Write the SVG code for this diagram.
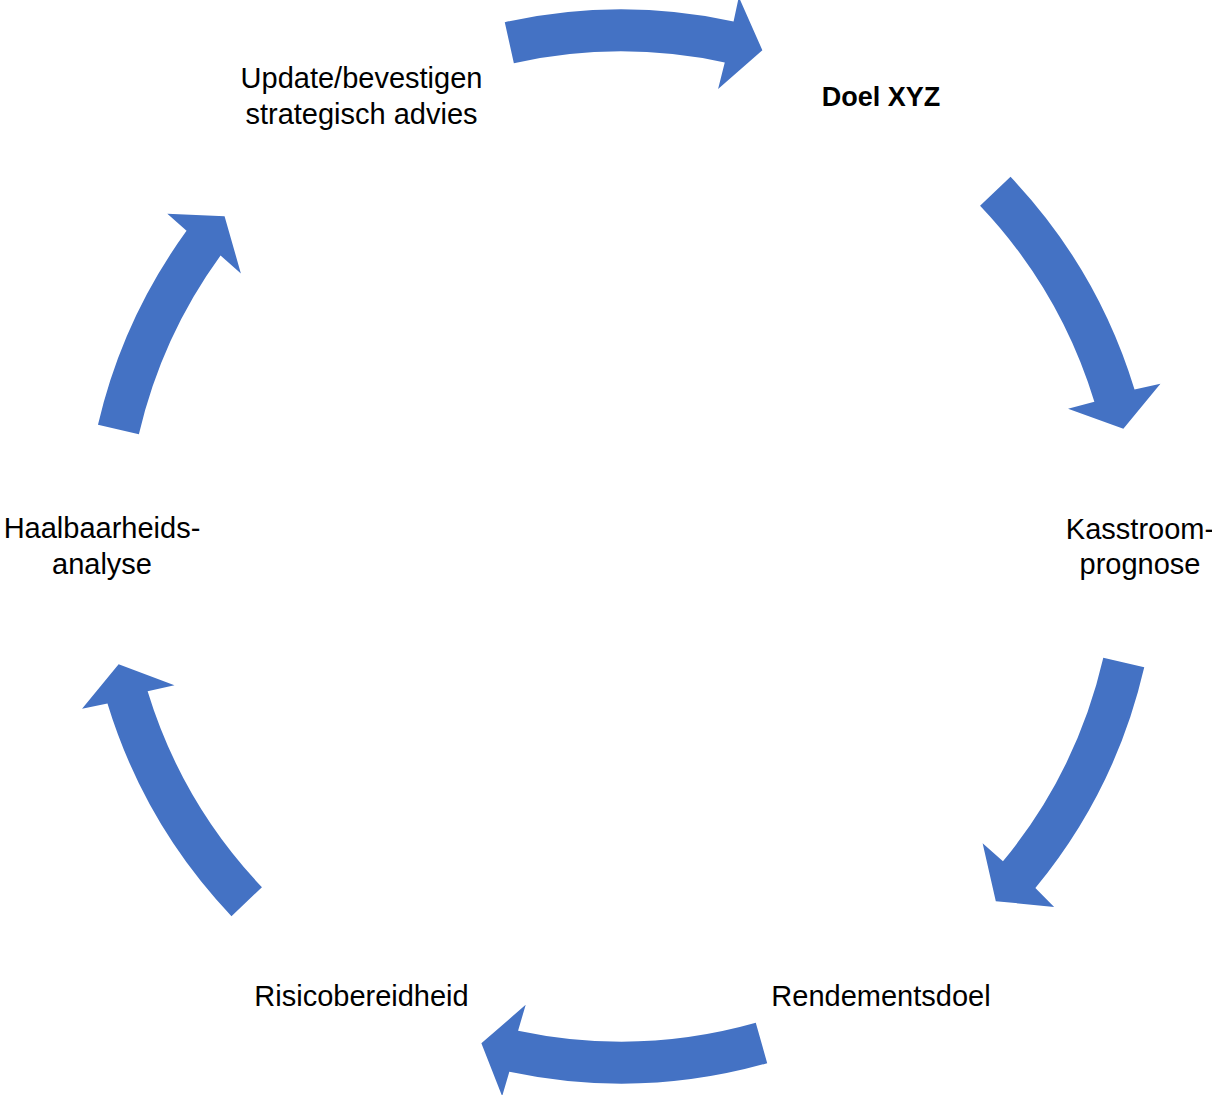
<svg xmlns="http://www.w3.org/2000/svg" width="1212" height="1095" viewBox="0 0 1212 1095">
<style>
.arrow{fill:#4472C4;stroke:none}
.lbl{font-family:"Liberation Sans",Arial,sans-serif;font-size:29px;fill:#000;text-anchor:middle}
.bold{font-weight:bold;font-size:27px}
</style>
<rect width="1212" height="1095" fill="#fff"/>
<g id="connectors">
<path id="arrow1" class="arrow" d="M504.77,22.23 A537,537 0 0 1 733.57,21.43 L738.81,-3.01 L762.36,50.24 L718.10,88.90 L724.76,62.50 A495,495 0 0 0 513.86,63.23 Z"/>
<path id="arrow2" class="arrow" d="M1010.52,176.86 A537,537 0 0 1 1134.53,389.50 L1160.44,383.69 L1123.37,428.67 L1068.05,408.67 L1094.37,401.78 A495,495 0 0 0 980.06,205.77 Z"/>
<path id="arrow3" class="arrow" d="M1144.24,667.30 A537,537 0 0 1 1035.36,888.07 L1054.15,906.98 L995.81,901.15 L982.62,843.19 L1002.95,861.36 A495,495 0 0 0 1103.31,657.85 Z"/>
<path id="arrow4" class="arrow" d="M767.21,1063.21 A537,537 0 0 1 509.35,1071.77 L502.15,1096.22 L481.37,1043.25 L525.70,1004.77 L518.08,1030.68 A495,495 0 0 0 755.78,1022.80 Z"/>
<path id="arrow5" class="arrow" d="M231.48,916.14 A537,537 0 0 1 107.47,703.50 L82.06,708.81 L118.63,664.33 L174.45,685.33 L147.63,691.22 A495,495 0 0 0 261.94,887.23 Z"/>
<path id="arrow6" class="arrow" d="M97.97,424.79 A537,537 0 0 1 186.56,230.86 L167.33,213.66 L224.57,216.20 L240.88,273.41 L220.54,255.54 A495,495 0 0 0 138.88,434.31 Z"/>
</g>
<g id="node-doel"><text class="lbl bold" x="881" y="106">Doel XYZ</text></g>
<g id="node-kasstroom"><text class="lbl" x="1140" y="539">Kasstroom-</text><text class="lbl" x="1140" y="574">prognose</text></g>
<g id="node-rendement"><text class="lbl" x="881" y="1006">Rendementsdoel</text></g>
<g id="node-risico"><text class="lbl" x="361.5" y="1006">Risicobereidheid</text></g>
<g id="node-haalbaarheid"><text class="lbl" x="102" y="538">Haalbaarheids-</text><text class="lbl" x="102" y="574">analyse</text></g>
<g id="node-update"><text class="lbl" x="361.5" y="88">Update/bevestigen</text><text class="lbl" x="361.5" y="124">strategisch advies</text></g>
</svg>
